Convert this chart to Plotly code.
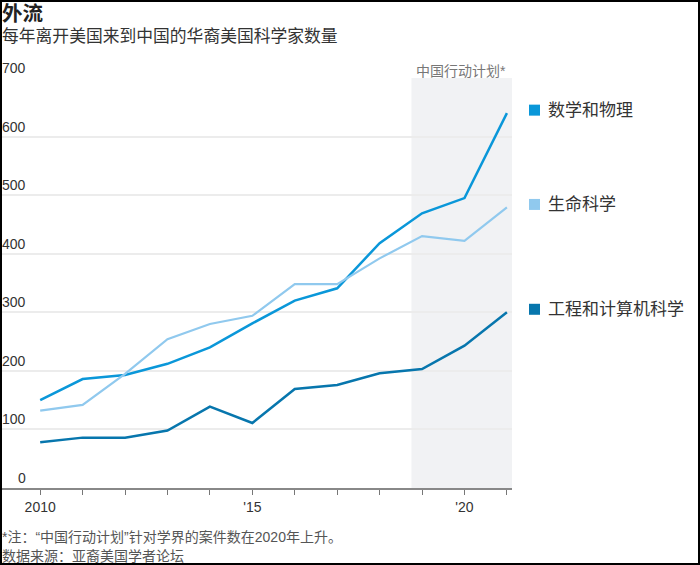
"""
外流 — 每年离开美国来到中国的华裔美国科学家数量
"""
import plotly.graph_objects as go

years = list(range(2010, 2022))
math_physics = [150, 186, 193, 212, 240, 281, 320, 341, 418, 469, 495, 640]
life_science = [132, 142, 195, 254, 280, 294, 348, 348, 392, 430, 422, 479]
eng_cs = [78, 86, 86, 98, 139, 111, 169, 176, 196, 203, 243, 300]

series_names = ["数学和物理", "生命科学", "工程和计算机科学"]
series_colors = ["#0a97d9", "#90c9ee", "#0776ad"]

y_ticks = [0, 100, 200, 300, 400, 500, 600, 700]
x_ticktext = ["2010", "", "", "", "", "'15", "", "", "", "", "'20", ""]

shade_start = 2018.75
x_range = [2009.1, 2021.12]

FONT = "Liberation Sans, Arial, Noto Sans CJK SC, sans-serif"
W, H = 700, 565
L, R, T, B = 2, 188, 78, 77
PW, PH = W - L - R, H - T - B


def px_x(q):
    return (q - L) / PW


def px_y(p):
    return (H - B - p) / PH


fig = go.Figure()
for vals, name, color, width in zip([math_physics, life_science, eng_cs], series_names,
                                     series_colors, [2.5, 2.2, 2.5]):
    fig.add_trace(go.Scatter(x=years, y=vals, mode="lines", name=name,
                             line=dict(color=color, width=width), hoverinfo="x+y+name"))

shapes = [
    dict(type="rect", xref="x", yref="paper", x0=shade_start, x1=x_range[1], y0=0, y1=1,
         fillcolor="#f1f2f4", line_width=0, layer="below"),
    dict(type="rect", xref="paper", yref="paper", x0=px_x(1), x1=px_x(699), y0=px_y(1), y1=px_y(564),
         line=dict(color="black", width=2), fillcolor="rgba(0,0,0,0)"),
]

annotations = [
    dict(text="<b>外流</b>", x=px_x(0), y=px_y(13), xref="paper", yref="paper",
         xanchor="left", yanchor="middle", showarrow=False, font=dict(size=20.5, color="#222")),
    dict(text="每年离开美国来到中国的华裔美国科学家数量", x=px_x(0), y=px_y(37), xref="paper", yref="paper",
         xanchor="left", yanchor="middle", showarrow=False, font=dict(size=16.8, color="#333")),
    dict(text="中国行动计划*", x=1, y=px_y(71), xref="paper", yref="paper", xshift=-4,
         xanchor="right", yanchor="middle", showarrow=False, font=dict(size=14, color="#777")),
    dict(text="*注：“中国行动计划”针对学界的案件数在2020年上升。", x=px_x(0), y=px_y(537), xref="paper",
         yref="paper", xanchor="left", yanchor="middle", showarrow=False, font=dict(size=14, color="#555")),
    dict(text="数据来源：亚裔美国学者论坛", x=px_x(0), y=px_y(556), xref="paper", yref="paper",
         xanchor="left", yanchor="middle", showarrow=False, font=dict(size=14, color="#555")),
]

for v in y_ticks:
    annotations.append(dict(text=str(v), x=0, y=v, xref="paper", yref="y", xshift=25.5,
                            xanchor="right", yanchor="bottom", showarrow=False,
                            font=dict(size=14, color="#333")))

# right-hand labels next to line ends
for vals, name, color in zip([math_physics, life_science, eng_cs], series_names, series_colors):
    shapes.append(dict(type="rect", xref="paper", yref="y", xsizemode="pixel", ysizemode="pixel",
                       xanchor=px_x(529), yanchor=vals[-1], x0=0, x1=11, y0=-2.5, y1=8.5,
                       fillcolor=color, line_width=0))
    annotations.append(dict(text=name, x=px_x(546), y=vals[-1], xref="paper", yref="y", yshift=3,
                            xanchor="left", yanchor="middle", showarrow=False,
                            font=dict(size=17, color="#333")))

fig.update_layout(
    width=W, height=H,
    margin=dict(l=L, r=R, t=T, b=B),
    paper_bgcolor="white",
    plot_bgcolor="white",
    font=dict(family=FONT, size=14, color="#333"),
    showlegend=False,
    shapes=shapes,
    annotations=annotations,
)
fig.update_xaxes(range=x_range, tickvals=years, ticktext=x_ticktext, ticks="outside", ticklen=5,
                 tickwidth=1, tickcolor="#777", showgrid=False, showline=True, linecolor="#888",
                 linewidth=1.5, zeroline=False, tickfont=dict(size=14, color="#333"))
fig.update_yaxes(range=[0, 700], tickvals=y_ticks, showticklabels=False, showgrid=True,
                 gridcolor="#ececec", gridwidth=1.5, zeroline=False, showline=False)

# page body has a default 8px margin; drop it so the figure fills the window
fig.write_html("out.html", config={"displayModeBar": False},
               post_script="document.body.style.margin='0';document.body.style.overflow='hidden';")
